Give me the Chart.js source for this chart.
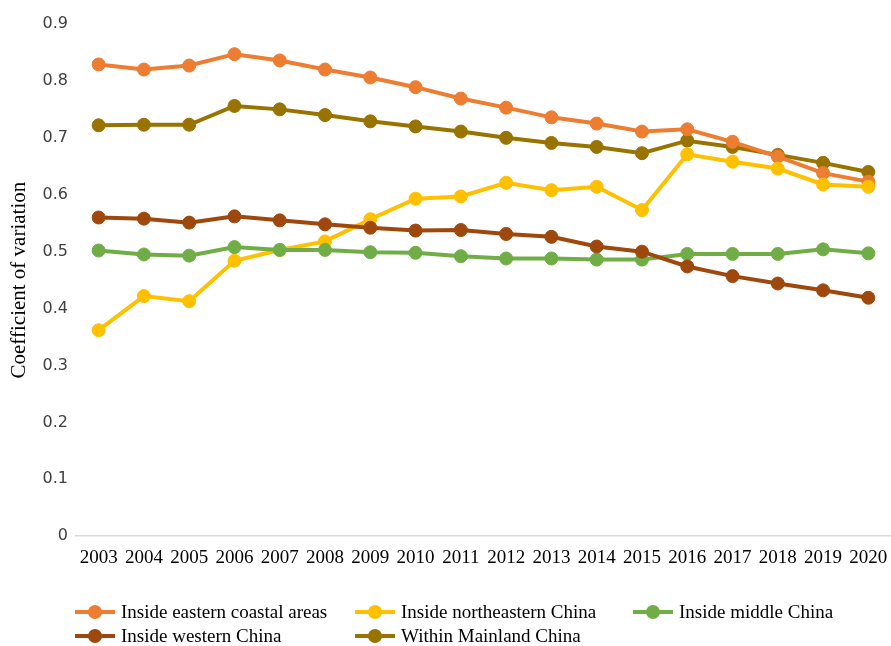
<!DOCTYPE html>
<html>
<head>
<meta charset="utf-8">
<script src="https://cdn.jsdelivr.net/npm/chart.js@4.4.1/dist/chart.umd.min.js"></script>
<style>
  html, body { margin: 0; padding: 0; background: #fff; }
  #wrap { position: relative; width: 891px; height: 646px; }
  #legend { position: absolute; left: 75px; top: 601px; width: 816px;
    display: grid; grid-template-columns: 280px 278px 258px; row-gap: 2px;
    font-family: "Liberation Serif", "Times New Roman", serif; font-size: 19px; color: #000; }
  .item { display: flex; align-items: center; height: 22px; white-space: nowrap; }
  .mark { position: relative; width: 40px; height: 14px; margin-right: 6px; }
  .mark .ln { position: absolute; left: 0; right: 0; top: 5px; height: 4px; }
  .mark .dot { position: absolute; left: 13px; top: 0; width: 14px; height: 14px; border-radius: 50%; }
</style>
</head>
<body>
<div id="wrap">
  <canvas id="grafico" width="891" height="646"></canvas>
  <div id="legend"></div>
</div>
<script>
const anos = ["2003","2004","2005","2006","2007","2008","2009","2010","2011","2012","2013","2014","2015","2016","2017","2018","2019","2020"];

const leste = [0.829,0.820,0.827,0.847,0.836,0.820,0.806,0.789,0.769,0.753,0.736,0.725,0.711,0.715,0.693,0.667,0.638,0.623];
const nordeste = [0.362,0.422,0.413,0.484,0.503,0.518,0.557,0.593,0.597,0.621,0.608,0.614,0.573,0.671,0.658,0.646,0.618,0.614];
const centro = [0.502,0.495,0.493,0.508,0.503,0.503,0.499,0.498,0.492,0.488,0.488,0.486,0.486,0.496,0.496,0.496,0.504,0.497];
const oeste = [0.560,0.558,0.551,0.562,0.555,0.548,0.542,0.537,0.538,0.531,0.526,0.509,0.500,0.474,0.457,0.444,0.432,0.419];
const nacional = [0.722,0.723,0.723,0.756,0.750,0.740,0.729,0.720,0.711,0.700,0.691,0.684,0.673,0.695,0.684,0.670,0.656,0.640];

const yTicks = [0,0.1,0.2,0.3,0.4,0.5,0.6,0.7,0.8,0.9];

const series = [
  { label: "Inside eastern coastal areas", data: leste, cor: "#ED7D31" },
  { label: "Inside northeastern China", data: nordeste, cor: "#FFC000" },
  { label: "Inside middle China", data: centro, cor: "#70AD47" },
  { label: "Inside western China", data: oeste, cor: "#9E480E" },
  { label: "Within Mainland China", data: nacional, cor: "#997300" }
];

// ordem de desenho: a última fica por cima
const ordemDesenho = [3, 2, 1, 0, 4];

function montarLegenda() {
  const box = document.getElementById("legend");
  series.forEach(s => {
    const div = document.createElement("div");
    div.className = "item";
    div.innerHTML = `<span class="mark"><span class="ln" style="background:${s.cor}"></span><span class="dot" style="background:${s.cor}"></span></span><span>${s.label}</span>`;
    box.appendChild(div);
  });
}

function desenharGrafico() {
  const ctx = document.getElementById("grafico").getContext("2d");
  new Chart(ctx, {
    type: "line",
    data: {
      labels: anos,
      datasets: series.map((s, i) => ({
        label: s.label,
        data: s.data,
        borderColor: s.cor,
        backgroundColor: s.cor,
        pointBackgroundColor: s.cor,
        pointBorderColor: s.cor,
        borderWidth: 4,
        pointRadius: 6.5,
        pointBorderWidth: 1,
        tension: 0,
        order: ordemDesenho[i]
      }))
    },
    options: {
      responsive: false,
      animation: false,
      layout: { autoPadding: false, padding: { top: 24, right: 0, bottom: 67, left: 7 } },
      plugins: { legend: { display: false }, tooltip: { enabled: false } },
      scales: {
        x: {
          offset: true,
          afterFit: s => { s.paddingRight = 0; s.paddingLeft = 0; },
          grid: { display: true, drawOnChartArea: false, drawTicks: false },
          border: { display: true, color: "#D9D9D9", width: 1.5 },
          ticks: {
            color: "#000",
            maxRotation: 0,
            autoSkip: false,
            padding: 10,
            font: { family: "'Liberation Serif', serif", size: 19 }
          }
        },
        y: {
          min: 0,
          max: 0.9,
          afterBuildTicks: s => { s.ticks = yTicks.map(v => ({ value: v })); },
          afterFit: s => { s.width = 69; },
          grid: { display: false },
          border: { display: false },
          ticks: {
            color: "#404040",
            padding: 0,
            callback: v => String(Math.round(v * 10) / 10),
            font: { family: "'DejaVu Sans', sans-serif", size: 16 }
          },
          title: {
            display: true,
            text: "Coefficient of variation",
            color: "#000",
            padding: 0,
            font: { family: "'Liberation Serif', serif", size: 21 }
          }
        }
      }
    }
  });
}

montarLegenda();
desenharGrafico();
</script>
</body>
</html>
